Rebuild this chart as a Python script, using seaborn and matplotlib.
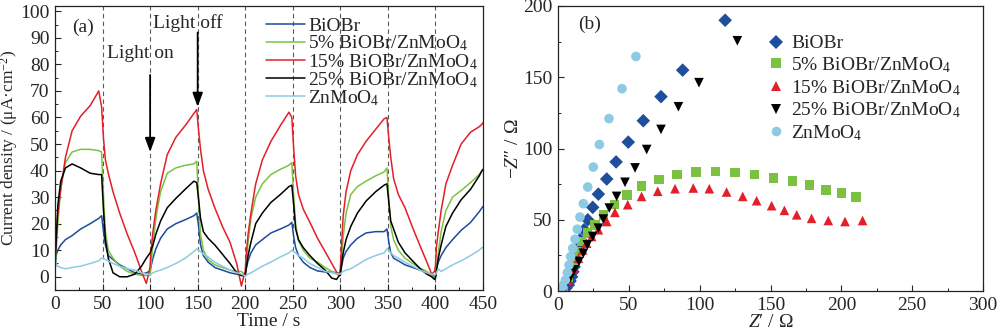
import matplotlib
matplotlib.use("Agg")
import matplotlib.pyplot as plt
from matplotlib.ticker import MultipleLocator
import numpy as np
import pandas as pd
import seaborn as sns

# ---------------- data ----------------
SAMPLES = ["BiOBr", "5% BiOBr/ZnMoO$_4$", "15% BiOBr/ZnMoO$_4$",
           "25% BiOBr/ZnMoO$_4$", "ZnMoO$_4$"]
LINE_COLORS = ["#1d4b9c", "#7cc242", "#e3202a", "#000000", "#8ccbe3"]
MARKER_COLORS = ["#1f4e9c", "#7cc242", "#e3202a", "#000000", "#8ccbe3"]
MARKERS = ["D", "s", "^", "v", "o"]

# photocurrent response, light switched every 50 s
TIME = [0, 1, 3, 6, 11, 18, 27, 37, 46, 49, 51, 53, 56, 61, 68, 76, 84, 91, 96, 99,
        100, 101, 103, 106, 111, 118, 127, 137, 146, 149, 151, 153, 156, 161, 168, 176, 184, 191, 196, 199,
        200, 201, 203, 206, 211, 218, 227, 237, 246, 249, 251, 253, 256, 261, 268, 276, 284, 291, 296, 299,
        300, 301, 303, 306, 311, 318, 327, 337, 346, 349, 351, 353, 356, 361, 368, 376, 384, 391, 396, 399,
        400, 401, 403, 406, 411, 418, 427, 437, 446, 449, 450]

J_BIOBR = [2, 8, 10, 12, 14, 15.5, 18, 20, 22, 23, 17, 12, 8, 6.5, 4.5, 3, 1.5, 1, 1.5, 2,
           2, 4, 7, 10.5, 14.5, 18, 20, 21.5, 23, 24, 19, 12, 8, 5.5, 3.5, 2.5, 1.5, 1, 0.5, 0.5,
           0.5, 3, 6, 9, 12, 14, 16.5, 18, 19.5, 20.5, 15, 11, 8, 5.5, 3.5, 2.2, 1.8, 1.8, 1.5, 1,
           1, 3, 7, 9.5, 12, 14.5, 16.5, 17, 17, 18, 13, 9, 7, 6, 4.5, 3.5, 2.5, 1.5, 0.8, 0,
           0, 3, 5.5, 8, 11, 14, 17.5, 20.5, 24.5, 26, 26.5]
J_5 = [2, 8, 20, 33, 43, 47, 48, 48, 47.5, 47, 30, 17, 10, 7, 4, 2, 1, 0.5, 0.5, 0.5,
       0.5, 5, 12, 22, 32, 39, 41, 42, 42.5, 43.5, 29, 16, 10, 6.5, 4.5, 3.5, 2.5, 2, 2, 1,
       0.5, 5, 13, 22, 30, 35, 38.5, 40.5, 42, 43, 30, 20, 13.5, 10, 7, 5.5, 3.5, 2, 1, 0.5,
       1, 6, 15, 24, 31, 34, 36, 38, 39.5, 41, 29, 19, 14, 10, 7, 5, 3.2, 2, 0.5, -0.5,
       -0.5, 3, 9, 17, 25, 30, 32.5, 35.5, 38.5, 40, 40]
J_15 = [7, 13, 24, 33, 45, 55, 60.5, 64.5, 70, 64, 52, 44, 39, 32, 24, 16, 9, 2, -2.5, 2,
        4, 10, 17, 25, 35, 46, 52.5, 57, 61.5, 63, 55, 48, 40, 33, 26, 19, 13, 5, -3.5, 1,
        2, 8, 16, 24, 35, 44, 51, 57, 62, 60, 48, 38, 31, 25.5, 20.5, 14.5, 9.5, 5, 1.8, 1,
        3, 10, 23, 32, 40, 46, 51, 55.5, 59.5, 60, 52, 45, 37, 31, 26, 18.5, 11.5, 5.5, 1, 2,
        4, 11, 17, 25, 35, 42, 50, 54.5, 56.5, 57.5, 58]
J_25 = [3, 12, 27, 36, 41, 42.5, 41, 39, 38.5, 38.5, 25, 14, 7, 1.5, 0, 0, 1, 4, 7, 8.5,
        9, 10, 12, 16, 21, 26, 29.5, 33, 36, 35.5, 29, 22, 17, 14.5, 12, 8.5, 5, 1.5, 0.5, 0.5,
        0.5, 3, 8, 13, 20, 24, 28, 31, 34, 34.5, 27, 18, 14, 11, 8, 5, 2.5, -0.5, -1, 0.5,
        0.5, 4, 9, 14, 19, 24, 28.5, 32, 34.5, 35, 28, 21, 18, 13, 9, 6, 3, 1, 0, -1,
        -0.5, 2, 7, 12, 19, 24, 29, 33, 38, 40, 40.5]
J_ZMO = [2, 5, 4, 3.5, 3, 3.5, 4, 5, 6, 7, 7, 6.5, 6, 5, 4, 3, 2.5, 1.5, 1, 0.8,
         0.6, 1, 1.5, 2, 2.5, 3.5, 5, 7, 9.5, 10.5, 10, 9.5, 8.5, 7.5, 5.5, 4, 2.5, 1.5, 1, 0.5,
         0.5, 0.5, 1, 1.5, 2.5, 4, 5.5, 7.5, 9, 10, 9.5, 9, 8, 7, 5, 3.5, 2, 1.5, 1.2, 1,
         1, 1.5, 2, 2.5, 3, 4.5, 6.5, 8, 9, 10.5, 10, 9, 8, 7, 5.5, 4, 2.5, 1.5, 1, 0.8,
         0.8, 1.5, 3, 2, 3, 4.5, 6, 8, 10, 11, 11]
SWITCH_TIMES = [50, 100, 150, 200, 250, 300, 350, 400]

# Nyquist plots (Z', -Z'')
ZRE_BIOBR = [3.8, 5.5, 7.3, 8.5, 9.6, 10.5, 11.3, 12.2, 13.2, 14.3, 15.5, 18.4, 21, 24.5, 28.5,
             34.4, 41, 49.6, 60.2, 72.7, 88, 118]
ZIM_BIOBR = [0.7, 2, 4.2, 7, 10, 13.5, 17, 21.5, 26.5, 31, 36, 43, 50, 58.7, 68,
             78.6, 90.6, 104.5, 119.5, 136.4, 155, 190]
ZRE_5 = [3.8, 7.3, 10.4, 13.2, 16.7, 20.7, 26.1, 32, 39.8, 48.5, 59, 71.3, 84.2, 97.4, 111.3,
         124.9, 138.6, 152, 165.4, 177.4, 189.2, 200.2, 210.4]
ZIM_5 = [1.9, 10, 19.5, 27.7, 34.7, 40.6, 46.5, 53.5, 60.6, 67.6, 73.5, 78.2, 81.7, 83.6, 84,
         83.3, 81.7, 79.3, 77, 74.6, 71, 68.8, 66]
ZRE_15 = [3.8, 7.3, 10.8, 14.4, 17.4, 20.2, 23.8, 28.5, 34.4, 40.2, 49.2, 59, 70.4, 82.6, 95.5,
          106.8, 119, 130.4, 140.2, 150.8, 159.8, 168.5, 179, 190.8, 202.6, 215]
ZIM_15 = [1.9, 7.7, 16, 23, 28.9, 33.6, 38.3, 43, 48.8, 55.2, 60.6, 66.4, 70, 71.8, 72.3,
          71.8, 69.5, 66.4, 63.4, 59.9, 56.6, 53.5, 51, 49.5, 48.8, 49.5]
ZRE_25 = [1.4, 4.9, 8.5, 11.5, 14.8, 17.9, 20.7, 24.5, 28.5, 32, 36.2, 41.4, 47.3, 54.4, 62.6,
          72.7, 85, 99.5, 126.6]
ZIM_25 = [0.7, 3.1, 8.9, 14.8, 20.7, 26.5, 32.4, 38.3, 44.1, 50.5, 58.2, 66.4, 76.3, 86.4, 99.3,
          113.4, 129.3, 146.2, 175.6]
ZRE_ZMO = [1.4, 3.3, 5.2, 6.6, 7.8, 8.9, 10.4, 12, 13.6, 15.5, 17.9, 21, 24.9, 29.2, 36, 45.2, 55]
ZIM_ZMO = [0.7, 3.1, 7.7, 12.9, 18.3, 24.2, 30, 36.4, 43.4, 51.9, 61.3, 73, 87, 102.8, 121, 142, 164.6]

# ---------------- style ----------------
sns.set_style("ticks")
FS = 14
plt.rcParams.update({
    "font.family": ["Liberation Serif", "DejaVu Serif"],
    "mathtext.fontset": "custom",
    "mathtext.rm": "Liberation Serif",
    "mathtext.it": "Liberation Serif:italic",
    "mathtext.bf": "Liberation Serif:bold",
    "font.size": FS,
    "axes.linewidth": 0.9,
    "axes.edgecolor": "#222222",
    "xtick.direction": "in",
    "ytick.direction": "in",
})

fig = plt.figure(figsize=(10, 3.33), dpi=100)
axA = fig.add_axes([0.055, 0.129, 0.428, 0.853])
axB = fig.add_axes([0.558, 0.126, 0.425, 0.856])

# ---------------- (a) photocurrent ----------------
curves = [J_BIOBR, J_5, J_15, J_25, J_ZMO]
dfA = pd.concat([pd.DataFrame({"t": TIME, "j": vals, "sample": name})
                 for name, vals in zip(SAMPLES, curves)], ignore_index=True)

for xs in SWITCH_TIMES:
    axA.axvline(xs, color="#5a5a5a", lw=0.8, ls=(0, (4, 3)), zorder=0)

sns.lineplot(data=dfA, x="t", y="j", hue="sample", hue_order=SAMPLES,
             palette=LINE_COLORS, estimator=None, sort=False, lw=1.1, ax=axA)
handles, labels = axA.get_legend_handles_labels()
axA.get_legend().remove()
axA.legend(handles, labels, loc="upper right", bbox_to_anchor=(1.015, 1.0),
           frameon=False, fontsize=FS, handlelength=2.0, handletextpad=0.15,
           labelspacing=-0.08, borderaxespad=0.2)

axA.set_xlim(0, 450)
axA.set_ylim(-5, 102)
axA.xaxis.set_major_locator(MultipleLocator(50))
axA.xaxis.set_minor_locator(MultipleLocator(25))
axA.yaxis.set_major_locator(MultipleLocator(10))
axA.yaxis.set_minor_locator(MultipleLocator(5))
axA.set_xlabel("Time / s", fontsize=FS, labelpad=0)
axA.set_ylabel("Current density / (μA·cm$^{-2}$)", fontsize=12.5, labelpad=0)

axA.text(18, 94, "(a)", fontsize=FS, va="center", ha="left")
axA.text(55, 84, "Light on", fontsize=FS, va="center", ha="left")
axA.text(103, 95.5, "Light off", fontsize=FS, va="center", ha="left")
arrow_kw = dict(arrowstyle="-|>,head_length=0.6,head_width=0.22", color="black", lw=1.3,
                shrinkA=0, shrinkB=0)
axA.annotate("", xy=(100, 47), xytext=(100, 76), arrowprops=arrow_kw)
axA.annotate("", xy=(150, 64), xytext=(150, 92), arrowprops=arrow_kw)

# ---------------- (b) EIS Nyquist ----------------
zre = [ZRE_BIOBR, ZRE_5, ZRE_15, ZRE_25, ZRE_ZMO]
zim = [ZIM_BIOBR, ZIM_5, ZIM_15, ZIM_25, ZIM_ZMO]
dfB = pd.concat([pd.DataFrame({"zre": a, "zim": b, "sample": name})
                 for name, a, b in zip(SAMPLES, zre, zim)], ignore_index=True)

sns.scatterplot(data=dfB, x="zre", y="zim", hue="sample", style="sample",
                hue_order=SAMPLES, style_order=SAMPLES, palette=MARKER_COLORS,
                markers=dict(zip(SAMPLES, MARKERS)), s=48, linewidth=0, ax=axB)
handles, labels = axB.get_legend_handles_labels()
axB.get_legend().remove()
axB.legend(handles, labels, loc="upper left", bbox_to_anchor=(0.462, 0.94),
           frameon=False, fontsize=FS, handlelength=1.0, handletextpad=0.3,
           labelspacing=0.15, borderaxespad=0.2, markerscale=1.0)

axB.set_xlim(0, 300)
axB.set_ylim(0, 200)
axB.xaxis.set_major_locator(MultipleLocator(50))
axB.xaxis.set_minor_locator(MultipleLocator(25))
axB.yaxis.set_major_locator(MultipleLocator(50))
axB.yaxis.set_minor_locator(MultipleLocator(25))
axB.set_xlabel("$Z$′ / Ω", fontsize=FS, labelpad=0)
axB.set_ylabel("−$Z$″ / Ω", fontsize=FS, labelpad=1)
axB.text(14, 187, "(b)", fontsize=FS, va="center", ha="left")

for ax in (axA, axB):
    ax.tick_params(which="major", length=4, width=0.8, labelsize=FS, pad=4)
    ax.tick_params(which="minor", length=2.5, width=0.7)
    for sp in ax.spines.values():
        sp.set_visible(True)

fig.savefig("out.png", dpi=100)
